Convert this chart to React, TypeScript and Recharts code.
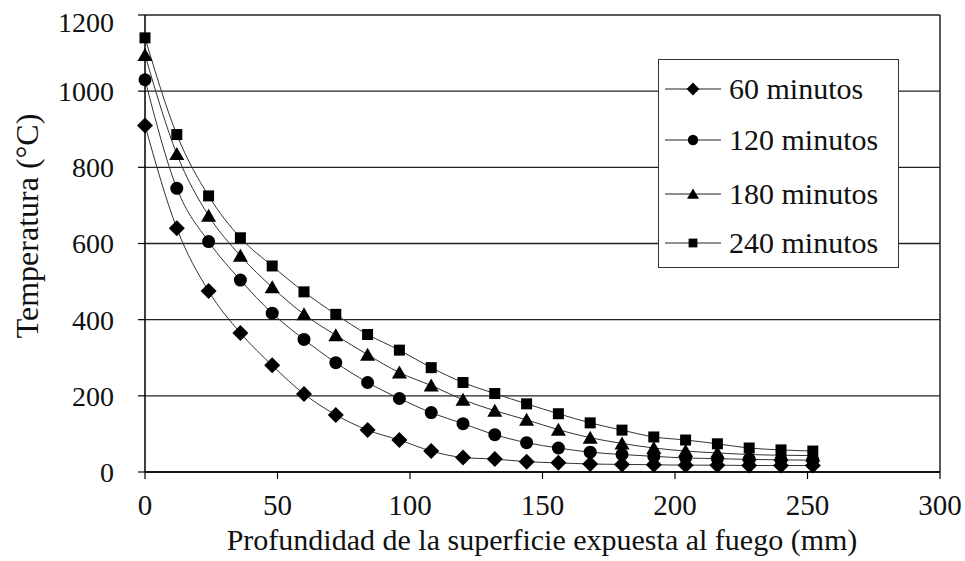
import React from "react";
import {
  LineChart,
  Line,
  XAxis,
  YAxis,
  CartesianGrid,
  ReferenceLine,
  Legend,
} from "recharts";

const depths = [0, 12, 24, 36, 48, 60, 72, 84, 96, 108, 120, 132, 144, 156, 168, 180, 192, 204, 216, 228, 240, 252];
const t60 = [910, 640, 475, 365, 280, 205, 150, 110, 84, 55, 38, 34, 27, 24, 21, 20, 19, 18, 18, 17, 17, 17];
const t120 = [1030, 745, 605, 504, 417, 348, 287, 235, 193, 156, 127, 98, 77, 63, 52, 46, 41, 37, 35, 33, 32, 31];
const t180 = [1095, 835, 673, 568, 485, 414, 359, 308, 261, 227, 190, 161, 137, 111, 90, 75, 63, 55, 50, 46, 44, 43];
const t240 = [1140, 886, 725, 615, 541, 473, 414, 361, 320, 274, 235, 206, 179, 153, 129, 110, 92, 84, 74, 63, 58, 55];

const xTicks = [0, 50, 100, 150, 200, 250, 300];
const yTicks = [0, 200, 400, 600, 800, 1000, 1200];

const seriesNames = ["60 minutos", "120 minutos", "180 minutos", "240 minutos"];
const seriesKeys = ["t60", "t120", "t180", "t240"];
const shapes = ["diamond", "circle", "triangle", "square"];

const data = depths.map((d, i) => ({
  x: d,
  t60: t60[i],
  t120: t120[i],
  t180: t180[i],
  t240: t240[i],
}));

const FONT = "'Liberation Serif', 'Times New Roman', serif";
const INK = "#111";

function Marker({ shape, cx, cy, s }: { shape: string; cx: number; cy: number; s: number }) {
  if (shape === "diamond") {
    const r = 8 * s;
    return <path d={`M${cx},${cy - r}L${cx + r},${cy}L${cx},${cy + r}L${cx - r},${cy}Z`} fill="#000" />;
  }
  if (shape === "circle") {
    return <circle cx={cx} cy={cy} r={6.5 * s} fill="#000" />;
  }
  if (shape === "triangle") {
    const w = 7.5 * s;
    return <path d={`M${cx},${cy - 7 * s}L${cx + w},${cy + 6 * s}L${cx - w},${cy + 6 * s}Z`} fill="#000" />;
  }
  const h = 5.5 * s;
  return <rect x={cx - h} y={cy - h} width={2 * h} height={2 * h} fill="#000" />;
}

function makeDot(shape: string) {
  return (props: any) => {
    const { cx, cy, index } = props;
    if (cx == null || cy == null) return <g key={`d-${shape}-${index}`} />;
    return (
      <g key={`d-${shape}-${index}`}>
        <Marker shape={shape} cx={cx} cy={cy} s={1} />
      </g>
    );
  };
}

function YTick(props: any) {
  const { x, y, payload } = props;
  const shift = payload && payload.value === 1200 ? 7 : 0;
  return (
    <text
      x={x}
      y={y + shift}
      dy="0.355em"
      textAnchor="end"
      fontSize={28}
      fill={INK}
      fontFamily={FONT}
    >
      {payload.value}
    </text>
  );
}

const rowTops = [29, 80, 134, 183];

function LegendBox() {
  return (
    <div
      style={{
        position: "relative",
        width: 241,
        height: 209,
        border: "1.5px solid #333",
        background: "#fff",
        boxSizing: "border-box",
        fontFamily: FONT,
      }}
    >
      {seriesNames.map((name, i) => (
        <div
          key={name}
          style={{
            position: "absolute",
            left: 0,
            top: rowTops[i] - 18,
            height: 36,
            display: "flex",
            alignItems: "center",
          }}
        >
          <svg width={70} height={36} style={{ display: "block" }}>
            <line x1={6} y1={18} x2={62} y2={18} stroke="#222" strokeWidth={1.2} />
            <Marker shape={shapes[i]} cx={34} cy={18} s={0.8} />
          </svg>
          <span style={{ fontSize: 30, color: INK, whiteSpace: "nowrap", lineHeight: "36px", fontFamily: FONT }}>
            {name}
          </span>
        </div>
      ))}
    </div>
  );
}

export default function App() {
  return (
    <div
      style={{
        position: "absolute",
        left: 0,
        top: 0,
        width: 965,
        height: 561,
        background: "#fff",
        fontFamily: FONT,
      }}
    >
      <LineChart
        width={965}
        height={561}
        data={data}
        margin={{ top: 15, right: 25, left: 0, bottom: 0 }}
        style={{ fontFamily: FONT }}
      >
        <CartesianGrid horizontal={true} vertical={false} stroke="#222" strokeWidth={1.3} />
        <ReferenceLine x={300} stroke="#222" strokeWidth={1.5} />
        <XAxis
          dataKey="x"
          type="number"
          domain={[0, 300]}
          ticks={xTicks}
          height={89}
          tickSize={7}
          tickMargin={15}
          axisLine={{ stroke: "#000", strokeWidth: 1.5 }}
          tickLine={{ stroke: "#000", strokeWidth: 1.2 }}
          tick={{ fill: INK, fontSize: 29, fontFamily: FONT, style: { fontFamily: FONT } }}
          label={{
            content: () => (
              <text x={542} y={550} textAnchor="middle" fontSize={30} fill={INK} fontFamily={FONT}>
                Profundidad de la superficie expuesta al fuego (mm)
              </text>
            ),
          }}
        />
        <YAxis
          type="number"
          domain={[0, 1200]}
          ticks={yTicks}
          width={145}
          tickSize={7}
          tickMargin={24}
          axisLine={{ stroke: "#000", strokeWidth: 1.5 }}
          tickLine={{ stroke: "#000", strokeWidth: 1.2 }}
          tick={<YTick />}
          label={{
            content: () => (
              <text
                x={27}
                y={226}
                transform="rotate(-90 27 226)"
                textAnchor="middle"
                dominantBaseline="central"
                fontSize={32}
                fill={INK}
                fontFamily={FONT}
              >
                Temperatura (°C)
              </text>
            ),
          }}
        />
        <Legend
          layout="vertical"
          align="center"
          verticalAlign="middle"
          content={() => <LegendBox />}
          wrapperStyle={{ position: "absolute", left: 658, top: 59, width: 241, height: 209 }}
        />
        {seriesKeys.map((k, i) => (
          <Line
            key={k}
            dataKey={k}
            name={seriesNames[i]}
            type="monotone"
            stroke="#333"
            strokeWidth={1}
            dot={makeDot(shapes[i])}
            activeDot={false}
            isAnimationActive={false}
          />
        ))}
      </LineChart>
    </div>
  );
}
